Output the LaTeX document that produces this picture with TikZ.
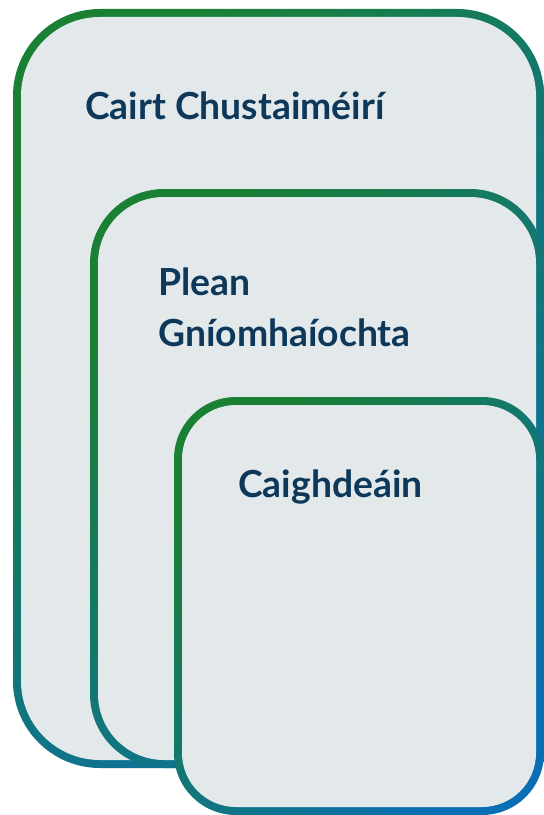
\documentclass[tikz,border=0pt]{standalone}
\usepackage{fontspec}
\setmainfont{Lato}
\usetikzlibrary{positioning}

\begin{document}
\begin{tikzpicture}[
  x=1bp,
  y=-1bp,
  rim/.style={top color=figgreen, bottom color=figblue, shading angle=45},
  face/.style={fill=figface},
  title/.style={anchor=base west, inner sep=0pt, text=fignavy,
    font=\fontsize{37.3bp}{44bp}\selectfont\bfseries}
]
\definecolor{figgreen}{RGB}{26,128,52}
\definecolor{figblue}{RGB}{10,110,180}
\definecolor{figface}{RGB}{227,232,235}
\definecolor{fignavy}{RGB}{14,56,90}

\useasboundingbox (0,0) rectangle (544,815);

% Nested frames: shaded rim first, then the face on top of it.
\foreach \xa/\ya/\xb/\yb/\rad in {17/13/540/764/83, 94/193/540/764/70, 178/401/540/811/58} {
  \shade[rim, rounded corners=\rad bp+4bp] (\xa-4,\ya-4) rectangle (\xb+4,\yb+4);
  \fill[face, rounded corners=\rad bp-4bp] (\xa+4,\ya+4) rectangle (\xb-4,\yb-4);
}

\node[title] (charter) at (85,119) {Cairt Chustaiméirí};
\node[title] (planA) at (158,295) {Plean};
\node[title] (planB) at (158,346) {Gníomhaíochta};
\node[title] (standards) at (238,497) {Caighdeáin};
\end{tikzpicture}
\end{document}
